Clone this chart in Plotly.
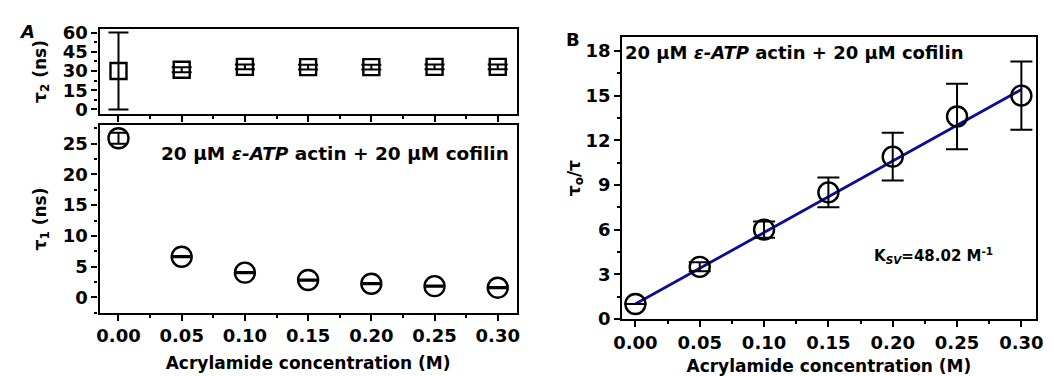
import plotly.graph_objects as go

# Acrylamide concentrations (M)
conc = [0.00, 0.05, 0.10, 0.15, 0.20, 0.25, 0.30]

# Panel A: lifetime components (ns)
tau2 = [30.0, 31.0, 33.2, 33.0, 33.0, 33.2, 33.2]
tau2_err = [30.0, 1.9, 1.9, 1.9, 1.9, 1.9, 1.9]
tau1 = [25.9, 6.6, 4.0, 2.8, 2.2, 1.8, 1.55]
tau1_err = [0.9, 0.1, 0.1, 0.1, 0.1, 0.1, 0.1]

# Panel B: Stern-Volmer ratio tau0/tau
ratio = [1.0, 3.5, 6.0, 8.5, 10.9, 13.6, 15.0]
ratio_err = [0.0, 0.3, 0.55, 1.0, 1.6, 2.2, 2.3]
ksv = 48.02
intercept = 1.0

FONT = "DejaVu Sans"
fit_x = [conc[0], conc[-1]]
fit_y = [intercept + ksv * c for c in fit_x]

fig = go.Figure()

fig.add_trace(go.Scatter(
    x=conc, y=tau2, mode="markers", xaxis="x", yaxis="y",
    marker=dict(symbol="square-open", size=16, color="black", line=dict(width=2.4)),
    error_y=dict(type="data", array=tau2_err, color="black", thickness=2, width=10),
))
fig.add_trace(go.Scatter(
    x=conc, y=tau1, mode="markers", xaxis="x2", yaxis="y2",
    marker=dict(symbol="circle-open", size=20, color="black", line=dict(width=2.4)),
    error_y=dict(type="data", array=tau1_err, color="black", thickness=2, width=9),
))
fig.add_trace(go.Scatter(
    x=fit_x, y=fit_y, mode="lines", xaxis="x3", yaxis="y3",
    line=dict(color="#0c0c9c", width=2.8),
))
fig.add_trace(go.Scatter(
    x=conc, y=ratio, mode="markers", xaxis="x3", yaxis="y3",
    marker=dict(symbol="circle-open", size=20, color="black", line=dict(width=2.4)),
    error_y=dict(type="data", array=ratio_err, color="black", thickness=2, width=11),
))

tickfont = dict(family=FONT, size=18, color="black", weight="bold")
titlefont = dict(family=FONT, size=17, color="black", weight="bold")

def xax(domain, rng, anchor, labels, title=None, standoff=4):
    d = dict(domain=domain, range=rng, anchor=anchor, showline=True, linewidth=2.2,
             linecolor="black", mirror=True, ticks="outside", ticklen=6, tickwidth=1.8,
             tickcolor="black", dtick=0.05, tick0=0, tickformat=".2f",
             showticklabels=labels, tickfont=tickfont, showgrid=False, zeroline=False,
             minor=dict(ticks="outside", ticklen=3, tickwidth=1.8, dtick=0.025, tickcolor="black"))
    if title:
        d["title"] = dict(text=title, font=titlefont, standoff=standoff)
    return d

def yax(domain, rng, anchor, dtick, title, standoff):
    return dict(domain=domain, range=rng, anchor=anchor, showline=True, linewidth=2.2,
                linecolor="black", mirror=True, ticks="outside", ticklen=6, tickwidth=1.8,
                tickcolor="black", dtick=dtick, tick0=0, tickfont=tickfont,
                showgrid=False, zeroline=False,
                minor=dict(ticks="outside", ticklen=3, tickwidth=1.8, dtick=dtick / 2,
                           tickcolor="black"),
                title=dict(text=title, font=titlefont, standoff=standoff))

fig.update_layout(
    width=1054, height=376, margin=dict(l=0, r=0, t=0, b=0),
    paper_bgcolor="white", plot_bgcolor="white", showlegend=False,
    xaxis=xax([0.0873, 0.4896], [-0.015, 0.315], "y", False),
    yaxis=yax([0.7021, 0.9388], [-3.5, 62.8], "x", 15, "τ<sub>2</sub> (ns)", 12),
    xaxis2=xax([0.0873, 0.4896], [-0.015, 0.315], "y2", True,
               "Acrylamide concentration (M)", 12),
    yaxis2=yax([0.1489, 0.6702], [-2.5, 28], "x2", 5, "τ<sub>1</sub> (ns)", 12),
    xaxis3=xax([0.5914, 0.9899], [-0.0102, 0.311], "y3", True,
               "Acrylamide concentration (M)", 8),
    yaxis3=yax([0.1311, 0.9157], [0, 18.92], "x3", 3, "τ<sub>o</sub>/τ", 1),
)

label = "20 μM <i>ε-ATP</i> actin + 20 μM cofilin"
fig.add_annotation(text=label, xref="paper", yref="paper", x=152 / 1054, y=1 - 153 / 376,
                   xanchor="left", yanchor="middle", showarrow=False,
                   font=dict(family=FONT, size=18.5, color="black", weight="bold"))
fig.add_annotation(text=label, xref="paper", yref="paper", x=624 / 1054, y=1 - 48 / 376,
                   xanchor="left", yanchor="middle", showarrow=False,
                   font=dict(family=FONT, size=18, color="black", weight="bold"))
fig.add_annotation(text="K<sub><i>SV</i></sub>=%.2f M<sup>-1</sup>" % ksv,
                   xref="paper", yref="paper", x=877 / 1054, y=1 - 260 / 376,
                   xanchor="left", yanchor="middle", showarrow=False,
                   font=dict(family=FONT, size=15, color="black", weight="bold"))
fig.add_annotation(text="<i>A</i>", xref="paper", yref="paper", x=18 / 1054, y=1 - 26 / 376,
                   xanchor="center", yanchor="middle", showarrow=False,
                   font=dict(family=FONT, size=18, color="black", weight="bold"))
fig.add_annotation(text="B", xref="paper", yref="paper", x=573 / 1054, y=1 - 34 / 376,
                   xanchor="center", yanchor="middle", showarrow=False,
                   font=dict(family=FONT, size=18, color="black", weight="bold"))

fig.write_html("out.html")
